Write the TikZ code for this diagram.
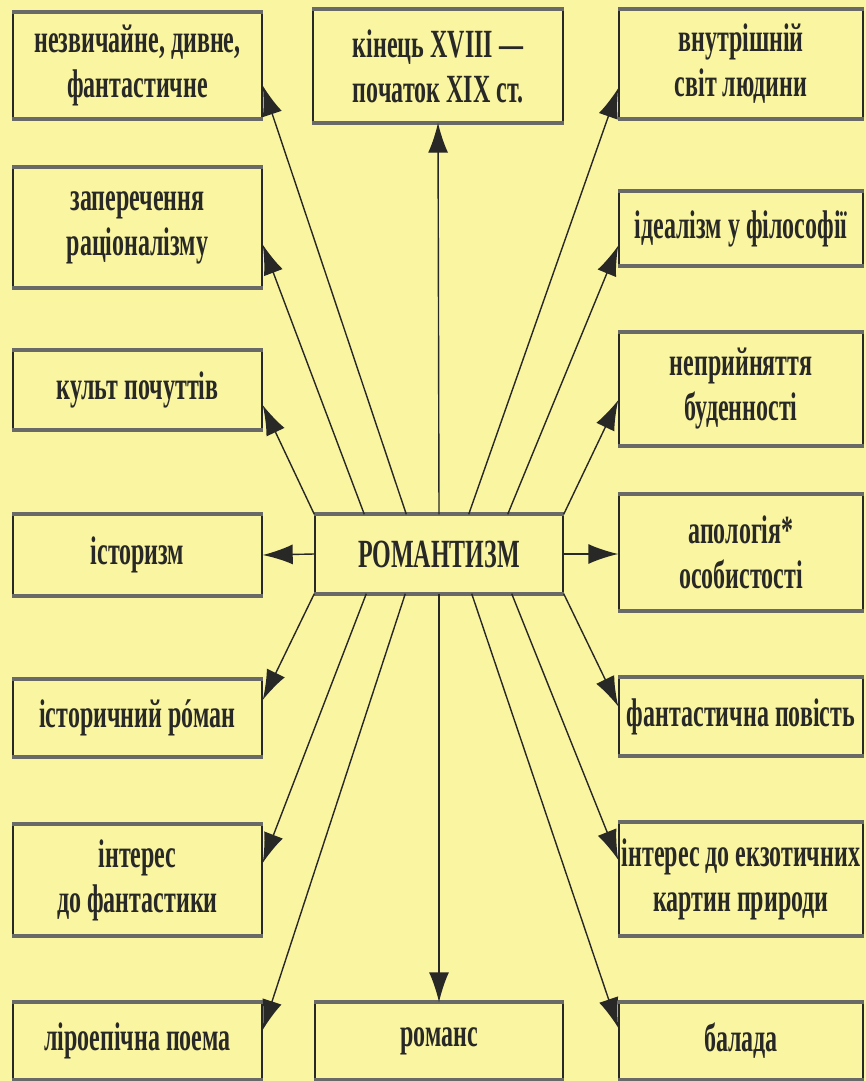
\documentclass[tikz,border=0pt]{standalone}
\usepackage{fontspec}
\setmainfont{Liberation Serif}[FakeStretch=0.6]
\usepackage{tikz}
\usetikzlibrary{arrows.meta}
\definecolor{paper}{RGB}{250,245,160}
\definecolor{ink}{RGB}{40,40,38}
\tikzstyle{box} = [draw=ink,line width=1.4pt,align=center,inner sep=0pt,text=ink,minimum width=249pt,font=\fontsize{40}{45}\selectfont\bfseries]
\tikzstyle{arrow} = [line width=1.4pt,draw=ink,-{Latex[length=30pt,width=20pt]}]

\begin{document}
\begin{tikzpicture}[x=1pt,y=-1pt]
      \fill[paper](0,0)rectangle(866,1081);
      \useasboundingbox(0,0)rectangle(866,1081);
      % left column
      \node[box,minimum height=105pt](l1)at(137.5,65.5){незвичайне, дивне,\\фантастичне};
      \node[box,minimum height=119pt](l2)at(137.5,227.5){заперечення\\раціоналізму};
      \node[box,minimum height=78pt](l3)at(137.5,390){культ почуттів};
      \node[box,minimum height=80pt](l4)at(137.5,555){історизм};
      \node[box,minimum height=77pt](l5)at(137.5,718){історичний рóман};
      \node[box,minimum height=110pt](l6)at(137.5,880){інтерес\\до фантастики};
      \node[box,minimum height=76pt](l7)at(137.5,1041){ліроепічна поема};
      % middle
      \node[box,minimum width=250pt,minimum height=112pt](top)at(438,66){кінець XVIII —\\початок XIX ст.};
      \node[box,minimum width=248pt,minimum height=78pt](rom)at(439,554){РОМАНТИЗМ};
      \node[box,minimum width=248pt,minimum height=76pt](bot)at(439,1041){романс};
      % right column
      \node[box,minimum width=244pt,minimum height=108pt](r1)at(741,64){внутрішній\\світ людини};
      \node[box,minimum width=244pt,minimum height=73pt](r2)at(741,228.5){ідеалізм у філософії};
      \node[box,minimum width=244pt,minimum height=112pt](r3)at(741,389){неприйняття\\буденності};
      \node[box,minimum width=244pt,minimum height=115pt](r4)at(741,552.5){апологія*\\особистості};
      \node[box,minimum width=244pt,minimum height=77pt](r5)at(741,716.5){фантастична повість};
      \node[box,minimum width=244pt,minimum height=112pt](r6)at(741,879){інтерес до екзотичних\\картин природи};
      \node[box,minimum width=244pt,minimum height=76pt](r7)at(741,1041){балада};
      \foreach \n in {l1,l2,l3,l4,l5,l6,l7,top,rom,bot,r1,r2,r3,r4,r5,r6,r7}
        \draw[line width=4pt,ink!70](\n.north west)--(\n.north east)(\n.south west)--(\n.south east);
      % upwards
      \draw[arrow](rom.north west)--([yshift=-15pt]l3.east);
      \draw[arrow]([xshift=50pt]rom.north west)--([yshift=-17pt]l2.east);
      \draw[arrow]([xshift=92pt]rom.north west)--([yshift=-20pt]l1.east);
      \draw[arrow](rom.north)--(top.south);
      \draw[arrow]([xshift=-95pt]rom.north east)--([yshift=-24pt]r1.west);
      \draw[arrow]([xshift=-56pt]rom.north east)--([yshift=-17pt]r2.west);
      \draw[arrow](rom.north east)--([yshift=-11pt]r3.west);
      % sideways
      \draw[arrow](rom.west)--(l4.east);
      \draw[arrow](rom.east)--(r4.west|-rom.east);
      % downwards
      \draw[arrow](rom.south west)--([yshift=18pt]l5.east);
      \draw[arrow]([xshift=52pt]rom.south west)--([yshift=17pt]l6.east);
      \draw[arrow]([xshift=91pt]rom.south west)--([yshift=11pt]l7.east);
      \draw[arrow](rom.south)--(bot.north);
      \draw[arrow]([xshift=-92pt]rom.south east)--([yshift=13pt]r7.west);
      \draw[arrow]([xshift=-52pt]rom.south east)--([yshift=19pt]r6.west);
      \draw[arrow](rom.south east)--([yshift=10pt]r5.west);
\end{tikzpicture}
\end{document}
